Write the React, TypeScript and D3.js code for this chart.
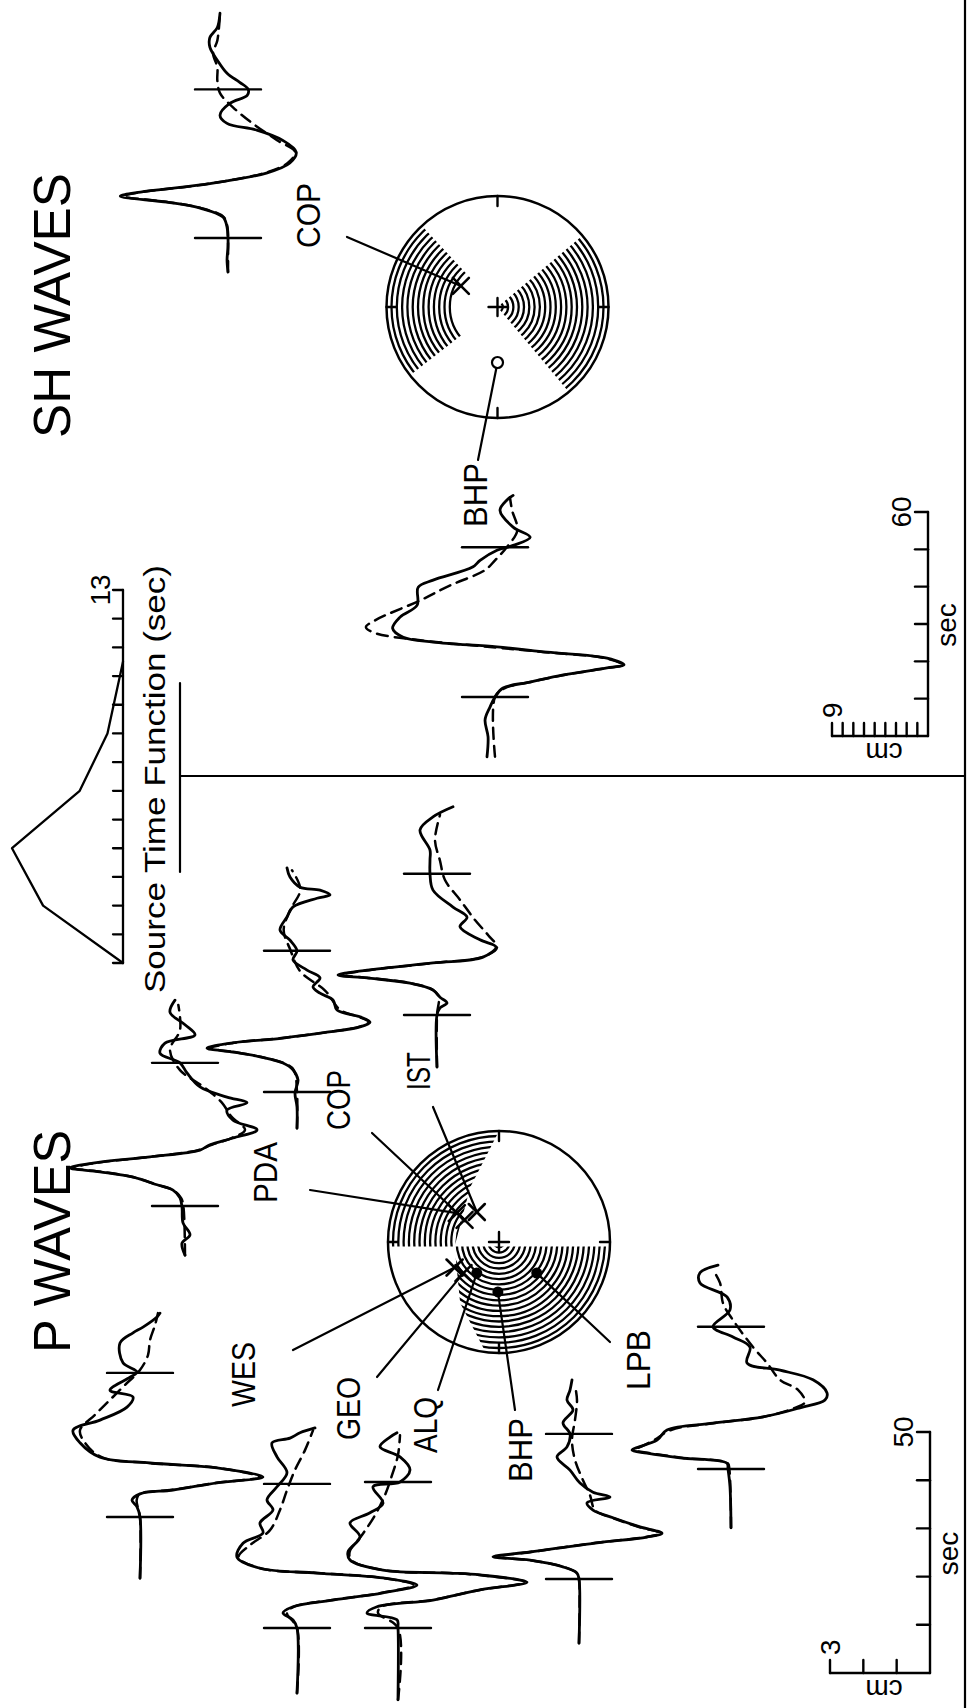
import React from 'react';
import * as d3 from 'd3';

type Pt = [number, number];

// P waveforms: [seconds after window start, amplitude in cm]; obs = solid, syn = dashed
const pdaObs: Pt[] = [[-10.2,0],[-7.7,0.09],[-6.0,-0.15],[-3.5,0.06],[-0.2,0.09],[1.7,0.15],[3.3,0.36],[4.4,0.84],[6.0,1.56],[7.1,2.55],[7.9,3.45],[8.9,2.76],[10.2,1.05],[11.6,-0.45],[12.7,-0.75],[14.1,-1.44],[15.8,-2.16],[17.8,-1.44],[19.9,-1.26],[21.4,-1.86],[22.6,-1.26],[24.7,-0.45],[27.6,-0.06],[29.7,0.15],[31.7,0.75],[33.8,0.6],[35.5,-0.3],[37.6,0],[40.2,0.45],[42.7,0.3]];
const pdaSyn: Pt[] = [[-10.2,0],[0,0.05],[1.7,0.12],[3.3,0.36],[4.4,0.84],[6.0,1.56],[7.1,2.5],[7.9,3.35],[8.9,2.7],[10.2,1.05],[11.6,-0.4],[12.7,-0.8],[14.1,-1.4],[15.8,-1.8],[18.5,-1.4],[21.5,-1.1],[24.5,-0.6],[28.2,0.15],[32.4,0.45],[36.5,0.15],[41.7,0.2]];

const copPObs: Pt[] = [[-7.5,0],[-3.1,0],[-0.2,0.06],[2.5,-0.03],[4.6,0.12],[6.0,0.42],[7.3,1.11],[8.3,1.92],[9.1,2.7],[10.2,1.92],[11.2,0.42],[12.4,-0.9],[13.5,-1.89],[14.5,-2.19],[15.6,-1.89],[17.0,-1.2],[19.1,-1.08],[20.5,-0.69],[21.8,-0.48],[23.7,-0.69],[25.3,-0.3],[27.4,0.12],[29.3,0],[31.5,0.21],[33.6,0.51],[36.3,0.3],[38.4,0.12],[40.2,-0.6],[40.9,-0.99],[41.9,-0.69],[42.5,-0.09],[44.6,0.21],[46.5,0.3]];
const copPSyn: Pt[] = [[-7.5,0],[0,0],[4.6,0.1],[6.0,0.4],[7.3,1.1],[8.3,1.9],[9.1,2.6],[10.2,1.9],[11.2,0.45],[12.4,-0.9],[13.5,-1.85],[14.5,-2.15],[15.6,-1.85],[17.0,-1.3],[21.0,-0.85],[25.0,-0.1],[29.5,0.2],[33.6,0.4],[37.8,0.2],[42.0,-0.1],[46.0,0.15]];

const istObs: Pt[] = [[-10.8,0],[0,0],[1.5,-0.09],[2.5,-0.3],[3.7,-0.09],[5.2,0.12],[6.6,0.81],[7.7,2.1],[8.3,2.97],[9.3,2.1],[10.8,0.12],[12.0,-1.38],[14.1,-1.77],[15.6,-1.29],[18.3,-0.69],[20.3,-0.9],[22.4,-0.48],[25.9,0.12],[29.3,0.21],[32.2,0.21],[34.2,0.21],[38.4,0.51],[41.1,0.12],[43.2,-0.48]];
const istSyn: Pt[] = [[-10.8,0],[0,0],[3.7,-0.05],[5.2,0.12],[6.6,0.8],[7.7,2.05],[8.3,2.9],[9.3,2.05],[10.8,0.1],[12.0,-1.35],[14.0,-1.8],[16.6,-1.53],[19.7,-1.14],[23.9,-0.69],[28.0,-0.24],[32.0,-0.09],[36.3,0.06],[41.5,-0.09]];

const wesObs: Pt[] = [[-12.7,0],[0,0],[2.1,0.09],[3.5,0.24],[4.8,0],[5.6,-0.99],[7.1,-2.31],[8.3,-3.69],[10.2,-2.31],[11.2,-0.3],[12.4,1.2],[15.4,1.8],[18.0,2.01],[20.1,1.2],[22.8,0.39],[24.9,0.21],[26.3,0.9],[29.0,0.3],[30.1,0.09],[32.0,0.51],[36.1,0.6],[38.2,0.21],[39.4,-0.09],[41.5,-0.51],[42.3,-0.6]];
const wesSyn: Pt[] = [[-12.7,0],[0,0],[3.5,0.1],[4.8,0],[5.6,-0.95],[7.1,-2.3],[8.3,-3.6],[10.2,-2.3],[11.2,-0.3],[12.4,1.15],[15.4,1.65],[18.0,1.8],[21.2,1.35],[24.3,0.9],[27.4,0.45],[30.5,0],[33.6,-0.24],[36.7,-0.3],[39.8,-0.45],[42.3,-0.54]];

const geoObs: Pt[] = [[-13.5,0],[0,0],[1.7,0.12],[3.1,0.42],[4.4,0.12],[5.8,-1.08],[7.3,-2.58],[8.9,-3.6],[10.4,-2.58],[11.4,-0.6],[12.4,1.11],[14.7,1.8],[17.6,1.62],[19.7,1.02],[21.8,1.11],[24.5,0.72],[26.6,0.9],[29.3,0.6],[32.2,0.3],[35.5,0.6],[38.4,0.75],[39.4,0.21],[40.5,-0.09],[41.5,-0.54]];
const geoSyn: Pt[] = [[-13.5,0],[0,0],[3.1,0.3],[4.4,0.1],[5.8,-1.05],[7.3,-2.55],[8.9,-3.5],[10.4,-2.55],[11.4,-0.6],[12.4,1.1],[14.7,1.75],[17.2,1.41],[20.3,0.81],[24.5,0.51],[28.6,0.3],[32.8,0.06],[36.9,-0.24],[41.0,-0.48]];

const alqObs: Pt[] = [[-14.9,0],[0,0],[1.7,0.03],[3.1,0.93],[4.4,0.63],[5.8,-1.05],[7.9,-2.46],[9.5,-3.87],[11.0,-2.46],[11.4,-1.56],[12.0,0.45],[14.1,1.44],[15.8,1.5],[18.9,1.14],[21.8,1.44],[23.9,0.84],[25.9,0.45],[29.3,0.75],[30.3,-0.06],[32.8,-0.36],[35.5,-0.06],[37.6,0.54],[39.6,0.24],[40.5,0.03]];
const alqSyn: Pt[] = [[-14.9,0],[0,0],[3.1,0.6],[4.4,0.5],[5.8,-1.0],[7.9,-2.45],[9.5,-3.8],[11.0,-2.45],[11.4,-1.5],[12.0,0.45],[14.1,1.4],[15.8,1.45],[19.3,1.08],[23.4,0.69],[27.6,0.39],[31.7,0.18],[35.9,0],[40.0,-0.06]];

const bhpPObs: Pt[] = [[-13.3,0],[0,0],[1.2,0.06],[2.5,0.48],[3.9,1.47],[4.6,2.58],[5.6,1.47],[7.5,-0.54],[8.7,-2.04],[9.5,-2.49],[10.8,-1.83],[12.7,-1.02],[14.3,-0.42],[15.8,-0.24],[17.0,-0.93],[18.0,-0.42],[19.9,-0.03],[22.6,0.27],[25.3,0.66],[27.4,0.36],[30.1,0.27],[32.4,0.48],[35.1,0.18],[37.1,0.36],[39.2,0.27],[41.3,0.21]];
const bhpPSyn: Pt[] = [[-13.3,0],[0,0],[1.2,0.05],[2.5,0.45],[3.9,1.45],[4.6,2.5],[5.6,1.45],[7.5,-0.5],[8.7,-2.0],[9.5,-2.45],[10.8,-1.8],[12.7,-1.0],[14.3,-0.48],[17.4,-0.33],[20.5,-0.12],[24.7,0.12],[28.8,0.21],[33.0,0.12],[37.1,0.06],[40.2,0.12]];

const lpbObs: Pt[] = [[-12.2,0],[-3.7,0.03],[0,0.09],[1.2,0.12],[2.3,1.53],[3.3,2.52],[3.9,2.97],[6.0,2.22],[8.1,1.92],[9.5,0.54],[10.8,-0.96],[12.7,-2.07],[14.3,-2.82],[15.8,-2.88],[18.5,-2.46],[20.5,-1.47],[22.0,-0.48],[25.3,-0.57],[27.4,-0.06],[29.5,0.54],[33.0,0.03],[35.7,0.12],[38.6,0.93],[40.7,0.93],[42.3,0.39]];
const lpbSyn: Pt[] = [[-12.2,0],[0,0.05],[1.2,0.1],[2.3,1.45],[3.3,2.45],[3.9,2.85],[6.0,2.3],[8.1,1.8],[9.5,0.54],[10.8,-0.96],[12.7,-1.92],[13.9,-2.22],[16.4,-2.01],[18.5,-1.47],[22.0,-1.08],[25.3,-0.66],[30.9,-0.06],[34.4,0.24],[38.6,0.33],[41.3,0.54]];

// SH waveforms
const copSObs: Pt[] = [[-9.1,0],[-5.9,0.09],[-2.4,0],[0,0],[2.9,0.09],[5.6,0.47],[8.0,2.6],[9.6,5.7],[11.2,10.1],[12.3,8.2],[14.2,2.6],[17.4,-3.6],[20.1,-5.8],[23.0,-6.4],[26.2,-5.1],[28.9,-2.7],[30.7,0.09],[32.9,0.75],[36.1,-0.19],[38.2,-1.8],[39.8,-1.9],[41.7,-1.1],[44.1,0.09],[47.6,1.0],[51.1,1.7],[53.7,1.7],[56.4,1.0],[60.2,0.75]];
const copSSyn: Pt[] = [[-9.1,0],[0,0],[2.9,0.05],[5.6,0.4],[8.0,2.5],[9.6,5.6],[11.2,9.8],[12.3,8.1],[14.2,2.6],[17.4,-3.4],[20.1,-5.6],[23.0,-6.3],[26.2,-4.6],[30.7,-2.3],[35.0,-0.47],[38.8,0.75],[42.2,1.0],[45.7,1.0],[49.5,1.4],[52.9,1.0],[60.2,0.75]];

const bhpSObs: Pt[] = [[-16.0,0.75],[-10.7,0.65],[-6.1,0.93],[-2.7,0.47],[0,0],[2.4,-0.75],[4.0,-3.3],[5.9,-6.4],[7.8,-10.5],[8.6,-12.1],[10.4,-10.5],[12.0,-4.9],[13.4,-0.19],[14.7,5.8],[16.0,8.6],[18.4,9.6],[21.4,8.9],[24.6,7.3],[29.4,7.2],[31.3,5.8],[34.8,2.1],[36.6,1.4],[39.3,-0.19],[40.6,-1.7],[42.8,-3.3],[45.5,-1.7],[50.0,-0.47],[52.7,-1.1],[54.0,-1.7]];
const bhpSSyn: Pt[] = [[-16.0,0],[0,0],[2.4,-0.93],[4.0,-3.3],[5.9,-6.5],[7.8,-10.6],[8.6,-12.0],[10.4,-10.3],[12.0,-4.7],[13.4,0.47],[15.2,7.0],[17.1,11.2],[18.7,12.1],[20.6,11.2],[25.9,7.0],[29.9,4.2],[34.0,0.93],[36.6,0],[40.1,-1.1],[44.7,-2.1],[50.0,-1.6],[53.5,-1.4]];

const pStations = ['PDA', 'COP', 'IST', 'WES', 'GEO', 'ALQ', 'BHP', 'LPB'];
const pObsList = [pdaObs, copPObs, istObs, wesObs, geoObs, alqObs, bhpPObs, lpbObs];
const pSynList = [pdaSyn, copPSyn, istSyn, wesSyn, geoSyn, alqSyn, bhpPSyn, lpbSyn];
const pWindow = [29.7, 29.3, 29.3, 29.9, 29.9, 30.3, 30.1, 29.5];

const shStations = ['COP', 'BHP'];
const shObsList = [copSObs, bhpSObs];
const shSynList = [copSSyn, bhpSSyn];
const shWindow = [39.8, 40.1];

// source time function
const stfTime = [0, 2, 4, 6, 8, 10.5];
const stfAmp = [0, 0.72, 1, 0.39, 0.14, 0];

// focal spheres (unit-radius projection)
const pPlaneAX = -0.04;
const pPlaneB: Pt[] = [[-0.99, -0.12], [-0.55, -0.35], [-0.04, -0.40], [0.49, -0.26], [1.0, 0.0]];
const pMarkerSt = ['PDA', 'COP', 'IST', 'WES', 'GEO', 'ALQ', 'BHP', 'LPB'];
const pMarkerType = ['x', 'x', 'x', 'x', 'x', 'dot', 'dot', 'dot'];
const pMarkerXY: Pt[] = [[0.26, -0.38], [0.20, -0.31], [0.27, -0.20], [-0.23, -0.40], [-0.28, -0.32], [-0.28, -0.20], [-0.45, -0.01], [-0.28, 0.34]];
const shWedgeDeg = [[140, 230], [322, 407]];
const shWedgeInner = [0, 0.41];
const shMarkerSt = ['COP', 'BHP'];
const shMarkerType = ['x', 'ring'];
const shMarkerXY: Pt[] = [[0.19, -0.33], [-0.50, 0.0]];

// layout (figure drawn landscape, then turned a quarter turn)
const FIG_W = 1708;
const FONT = '"Liberation Sans", Arial, Helvetica, sans-serif';
const pTracePos: Pt[] = [[502, 185], [616, 297], [693, 437], [191, 140], [80, 297], [80, 398], [129, 579], [239, 731]];
const shTracePos: Pt[] = [[1470, 228], [1011, 495]];
const pLabelPos = [[505, 277, 61, 518, 310], [578, 350, 60, 575, 372], [618, 430, 38, 601, 433], [301, 255, 65, 358, 293], [268, 360, 63, 331, 377], [255, 437, 56, 318, 438], [226, 532, 64, 298, 515], [318, 650, 60, 366, 610]];
const shLabelPos = [[1460, 320, 65, 1471, 347], [1181, 487, 64, 1248, 478]];

export default function App() {
  const pSec = d3.scaleLinear().domain([0, 50]).range([0, 241]);
  const pCm = d3.scaleLinear().domain([0, 3]).range([0, 100]);
  const shSec = d3.scaleLinear().domain([0, 60]).range([0, 224]);
  const shCm = d3.scaleLinear().domain([0, 9]).range([0, 96]);
  const stfX = d3.scaleLinear().domain([0, 13]).range([745, 1118]);
  const stfY = d3.scaleLinear().domain([0, 1]).range([123, 12]);
  const R = 111;
  const unit = d3.scaleLinear().domain([-1, 1]).range([-R, R]);
  const pC: Pt = [466, 499];
  const shC: Pt = [1401, 497.5];

  const trace = (pts: Pt[], x0: number, base: number, sec: any, cm: any) =>
    d3.line<Pt>().x(d => x0 + sec(d[0])).y(d => base - cm(d[1])).curve(d3.curveCatmullRom.alpha(0.5))(pts) || '';

  const stroke = { stroke: '#000', fill: 'none', strokeLinecap: 'round' as const, strokeLinejoin: 'round' as const };

  const drawTraces = (stations: string[], obs: Pt[][], syn: Pt[][], win: number[], pos: Pt[], sec: any, cm: any, key: string) =>
    stations.map((st, i) => {
      const [x0, base] = pos[i];
      return (
        <g key={key + st}>
          <path d={trace(syn[i], x0, base, sec, cm)} {...stroke} strokeWidth={2.5} strokeDasharray="11 7" />
          <path d={trace(obs[i], x0, base, sec, cm)} {...stroke} strokeWidth={2.8} />
          {[0, win[i]].map((t, j) => (
            <line key={j} x1={x0 + sec(t)} x2={x0 + sec(t)} y1={base - 33} y2={base + 33} {...stroke} strokeWidth={2.4} />
          ))}
        </g>
      );
    });

  // P compressional regions
  const pRegions = (() => {
    const [cx, cy] = pC;
    const ay = Math.sqrt(1 - pPlaneAX * pPlaneAX);
    const p1 = d3.path();
    const a0 = Math.atan2(-ay, pPlaneAX);
    p1.moveTo(cx + R * Math.cos(a0), cy + R * Math.sin(a0));
    const last = pPlaneB[pPlaneB.length - 1];
    p1.arc(cx, cy, R, a0, Math.atan2(last[1], last[0]));
    for (let i = pPlaneB.length - 2; i >= 0; i--) {
      if (pPlaneB[i][0] >= pPlaneAX) p1.lineTo(cx + unit(pPlaneB[i][0]), cy + unit(pPlaneB[i][1]));
    }
    p1.closePath();
    const p2 = d3.path();
    const b0 = Math.atan2(ay, pPlaneAX);
    const first = pPlaneB[0];
    let b1 = Math.atan2(first[1], first[0]);
    if (b1 < b0) b1 += 2 * Math.PI;
    p2.moveTo(cx + R * Math.cos(b0), cy + R * Math.sin(b0));
    p2.arc(cx, cy, R, b0, b1);
    for (let i = 1; i < pPlaneB.length; i++) {
      if (pPlaneB[i][0] <= pPlaneAX) p2.lineTo(cx + unit(pPlaneB[i][0]), cy + unit(pPlaneB[i][1]));
    }
    p2.closePath();
    return p1.toString() + p2.toString();
  })();

  const shRegions = shWedgeDeg
    .map((w, i) =>
      d3.arc()({ innerRadius: shWedgeInner[i] * R, outerRadius: R + 2, startAngle: (w[0] * Math.PI) / 180, endAngle: (w[1] * Math.PI) / 180 }) || ''
    )
    .join('');

  const hatchR = d3.range(1, 21).map(k => k * 5.3);

  const sphere = (c: Pt, clipId: string, r0: number) => (
    <g>
      <g clipPath={`url(#${clipId})`}>
        {hatchR.map(r => (
          <circle key={r} cx={c[0]} cy={c[1]} r={r} {...stroke} strokeWidth={2.3} />
        ))}
      </g>
      <circle cx={c[0]} cy={c[1]} r={R} {...stroke} strokeWidth={2.5} />
      {[0, 90, 180, 270].map(a => {
        const rad = (a * Math.PI) / 180;
        return (
          <line key={a} x1={c[0] + R * Math.cos(rad)} y1={c[1] + R * Math.sin(rad)} x2={c[0] + (R - 10) * Math.cos(rad)} y2={c[1] + (R - 10) * Math.sin(rad)} {...stroke} strokeWidth={2.4} />
        );
      })}
      <line x1={c[0] - r0} x2={c[0] + r0} y1={c[1]} y2={c[1]} {...stroke} strokeWidth={2.4} />
      <line x1={c[0]} x2={c[0]} y1={c[1] - r0} y2={c[1] + r0} {...stroke} strokeWidth={2.4} />
    </g>
  );

  const marker = (type: string, x: number, y: number, k: string) => {
    if (type === 'x')
      return (
        <g key={k}>
          <line x1={x - 8} y1={y - 8} x2={x + 8} y2={y + 8} {...stroke} strokeWidth={2.6} />
          <line x1={x - 8} y1={y + 8} x2={x + 8} y2={y - 8} {...stroke} strokeWidth={2.6} />
        </g>
      );
    if (type === 'dot') return <circle key={k} cx={x} cy={y} r={5.5} fill="#000" />;
    return <circle key={k} cx={x} cy={y} r={5.5} fill="#fff" stroke="#000" strokeWidth={2.2} />;
  };

  const labels = (names: string[], lay: number[][], mxy: Pt[], c: Pt, k: string) =>
    names.map((st, i) => {
      const [tx, ty, len, lx, ly] = lay[i];
      const mx = c[0] + unit(mxy[i][0]);
      const my = c[1] + unit(mxy[i][1]);
      return (
        <g key={k + st + i}>
          <line x1={lx} y1={ly} x2={mx} y2={my} {...stroke} strokeWidth={2.2} />
          <text x={tx} y={ty} fontSize={34} textLength={len} lengthAdjust="spacingAndGlyphs" fontFamily={FONT}>{st}</text>
        </g>
      );
    });

  const scaleBar = (x0: number, y0: number, sec: any, cm: any, tMax: number, cmMax: number, sk: string) => (
    <g>
      <line x1={x0} x2={x0 + sec(tMax)} y1={y0} y2={y0} {...stroke} strokeWidth={2.4} />
      {d3.range(10, tMax + 1, 10).map(t => (
        <line key={t} x1={x0 + sec(t)} x2={x0 + sec(t)} y1={y0} y2={y0 - 13} {...stroke} strokeWidth={2.4} />
      ))}
      <line x1={x0} x2={x0} y1={y0} y2={y0 - cm(cmMax)} {...stroke} strokeWidth={2.4} />
      {d3.range(1, cmMax + 1).map(v => (
        <line key={v} x1={x0} x2={x0 + 13} y1={y0 - cm(v)} y2={y0 - cm(v)} {...stroke} strokeWidth={2.4} />
      ))}
      <text x={x0 + sec(tMax)} y={y0 - 17} fontSize={28} textAnchor="middle" fontFamily={FONT}>{tMax}</text>
      <text x={x0 + sec(tMax / 2) - 1} y={y0 + 28} fontSize={28} textAnchor="middle" fontFamily={FONT}>sec</text>
      <text x={x0 + 18} y={y0 - cm(cmMax) + 10} fontSize={28} fontFamily={FONT}>{cmMax}</text>
      <text transform={`translate(${x0 - 7},${y0 - cm(cmMax / 2) + 4}) rotate(-90)`} fontSize={28} textAnchor="middle" fontFamily={FONT}>{sk}</text>
    </g>
  );

  const stfPts: Pt[] = stfTime.map((t, i) => [t, stfAmp[i]]);

  return (
    <svg width={973} height={1708} style={{ position: 'absolute', left: 0, top: 0, background: '#fff' }}>
      <defs>
        <clipPath id="pclip"><path d={pRegions} /></clipPath>
        <clipPath id="shclip"><path d={shRegions} transform={`translate(${shC[0]},${shC[1]})`} /></clipPath>
      </defs>
      <rect x={0} y={0} width={973} height={1708} fill="#fff" />
      <g transform={`translate(0,${FIG_W}) rotate(-90)`}>
        {/* frame */}
        <line x1={0} x2={FIG_W} y1={965} y2={965} {...stroke} strokeWidth={2.2} />
        <line x1={932} x2={932} y1={180} y2={965} {...stroke} strokeWidth={2.2} />
        <line x1={836} x2={1025} y1={180} y2={180} {...stroke} strokeWidth={2.2} />

        {/* titles */}
        <text x={355} y={70} fontSize={51} textLength={223} lengthAdjust="spacingAndGlyphs" fontFamily={FONT}>P WAVES</text>
        <text x={1270} y={70} fontSize={51} textLength={265} lengthAdjust="spacingAndGlyphs" fontFamily={FONT}>SH WAVES</text>

        {/* source time function */}
        <line x1={stfX(0)} x2={stfX(13)} y1={stfY(0)} y2={stfY(0)} {...stroke} strokeWidth={2.3} />
        {d3.range(0, 14).map(t => (
          <line key={t} x1={stfX(t)} x2={stfX(t)} y1={stfY(0)} y2={stfY(0) - 10} {...stroke} strokeWidth={2.3} />
        ))}
        <path d={d3.line<Pt>().x(d => stfX(d[0])).y(d => stfY(d[1]))(stfPts) || ''} {...stroke} strokeWidth={2.3} />
        <text x={stfX(13)} y={110} fontSize={28} textAnchor="middle" fontFamily={FONT}>13</text>
        <text x={715} y={165} fontSize={30} textLength={428} lengthAdjust="spacingAndGlyphs" fontFamily={FONT}>Source Time Function  (sec)</text>

        {/* waveforms */}
        {drawTraces(pStations, pObsList, pSynList, pWindow, pTracePos, pSec, pCm, 'p')}
        {drawTraces(shStations, shObsList, shSynList, shWindow, shTracePos, shSec, shCm, 's')}

        {/* focal spheres */}
        {sphere(pC, 'pclip', 10)}
        {sphere(shC, 'shclip', 9)}
        {labels(pStations, pLabelPos, pMarkerXY, pC, 'pl')}
        {labels(shStations, shLabelPos, shMarkerXY, shC, 'sl')}
        {pMarkerSt.map((st, i) => marker(pMarkerType[i], pC[0] + unit(pMarkerXY[i][0]), pC[1] + unit(pMarkerXY[i][1]), 'pm' + st))}
        {shMarkerSt.map((st, i) => marker(shMarkerType[i], shC[0] + unit(shMarkerXY[i][0]), shC[1] + unit(shMarkerXY[i][1]), 'sm' + st))}

        {/* scale bars */}
        {scaleBar(35, 930, pSec, pCm, 50, 3, 'cm')}
        {scaleBar(972, 928, shSec, shCm, 60, 9, 'cm')}
      </g>
    </svg>
  );
}
